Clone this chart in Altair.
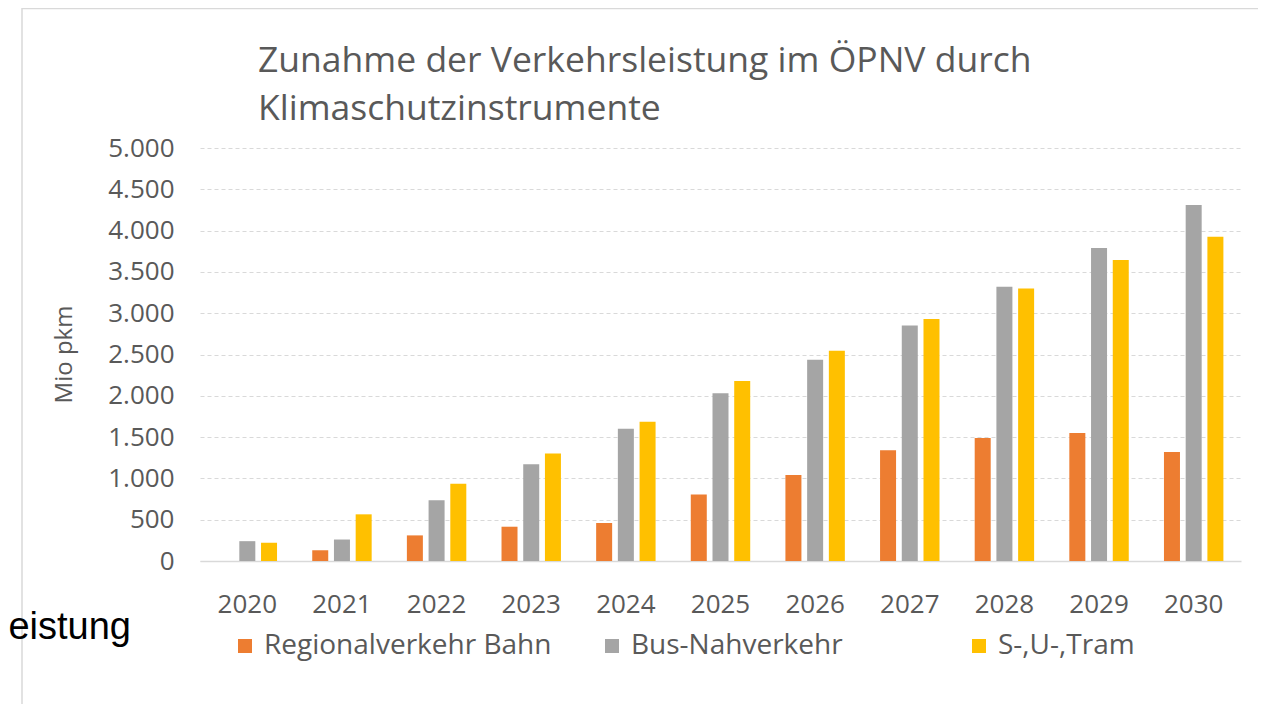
import altair as alt
import pandas as pd

years = [str(y) for y in range(2020, 2031)]
series = ["Regionalverkehr Bahn", "Bus-Nahverkehr", "S-,U-,Tram"]
bahn = [0, 130, 310, 415, 460, 805, 1040, 1340, 1490, 1550, 1320]
bus = [240, 260, 735, 1170, 1600, 2030, 2435, 2850, 3320, 3790, 4310]
tram = [220, 565, 935, 1300, 1685, 2180, 2545, 2930, 3300, 3645, 3925]
colors = ["#ED7D31", "#A5A5A5", "#FFC000"]
y_ticks = list(range(0, 5001, 500))
title_lines = ["Zunahme der Verkehrsleistung im ÖPNV durch", "Klimaschutzinstrumente"]
side_text = ["eistung"]

rows = []
for name, vals in zip(series, [bahn, bus, tram]):
    for yr, v in zip(years, vals):
        rows.append({"Jahr": yr, "Reihe": name, "Wert": v})
df = pd.DataFrame(rows)

FONT = "Open Sans"
TXT = "#595959"

bars = alt.Chart(df).mark_bar().encode(
    x=alt.X(
        "Jahr:N",
        sort=years,
        scale=alt.Scale(paddingInner=0.372, paddingOuter=0.186),
        axis=alt.Axis(
            title=None, labelAngle=0, ticks=False, domain=True,
            domainColor="#D9D9D9", domainWidth=1.5, grid=False,
            labelFont=FONT, labelFontSize=26, labelColor=TXT, labelPadding=30,
        ),
    ),
    xOffset=alt.XOffset("Reihe:N", sort=series,
                        scale=alt.Scale(paddingInner=0.263, paddingOuter=0)),
    y=alt.Y(
        "Wert:Q",
        scale=alt.Scale(domain=[0, 5000], nice=False),
        axis=alt.Axis(
            values=y_ticks, title="Mio pkm",
            labelExpr="replace(format(datum.value, ','), ',', '.')",
            grid=True, gridDash=[4, 3], gridColor="#D9D9D9", gridWidth=1,
            domain=False, ticks=False,
            labelFont=FONT, labelFontSize=26, labelColor=TXT, labelPadding=26,
            titleFont=FONT, titleFontSize=24, titleColor=TXT, titleFontWeight="normal",
            titleX=-124, titleY=206,
        ),
    ),
    color=alt.Color(
        "Reihe:N", sort=series,
        scale=alt.Scale(domain=series, range=colors),
        legend=alt.Legend(
            title=None, orient="none", legendX=31, legendY=484,
            direction="horizontal", columns=3, gridAlign="all",
            columnPadding=46, symbolType="square", symbolSize=196,
            symbolStrokeWidth=0, labelFont=FONT, labelFontSize=28,
            labelColor=TXT, labelOffset=5, labelLimit=0,
        ),
    ),
)

frame = alt.Chart(pd.DataFrame({"k": [0]})).mark_rect(
    fill="transparent", stroke="#D9D9D9", strokeWidth=1.5
).encode(
    x=alt.value(-178), x2=alt.value(1200),
    y=alt.value(-139.5), y2=alt.value(700),
)

side = alt.Chart(pd.DataFrame({"t": side_text})).mark_text(
    align="right", baseline="alphabetic", font="Liberation Sans",
    fontSize=38, color="black"
).encode(
    x=alt.value(-69), y=alt.value(491), text="t:N"
)

chart = alt.layer(frame, bars, side).properties(
    width=1041,
    height=413,
    padding={"left": 192, "top": 140, "right": 17, "bottom": 143},
    autosize=alt.AutoSizeParams(type="none"),
    title=alt.TitleParams(
        text=title_lines, anchor="start", frame="group", dx=58, dy=120,
        font=FONT, fontSize=35.5, fontWeight="normal", color=TXT,
        lineHeight=48, offset=0,
    ),
    background="white",
).configure_view(stroke=None)

chart.save("out.html", embed_options={"renderer": "svg", "actions": False})
